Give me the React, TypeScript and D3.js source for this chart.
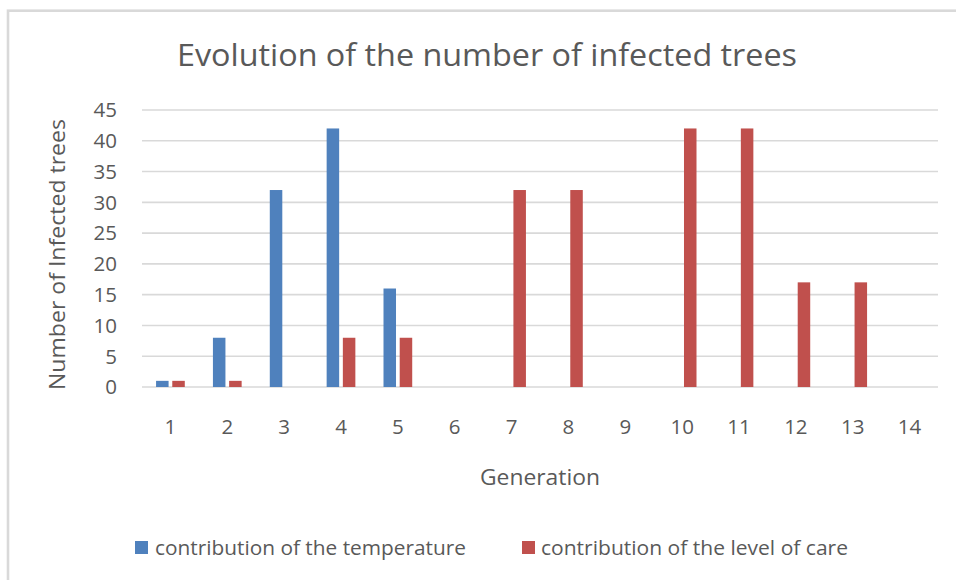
import React from "react";
import * as d3 from "d3";

const categories = ["1","2","3","4","5","6","7","8","9","10","11","12","13","14"];
const temperature = [1, 8, 32, 42, 16, 0, 0, 0, 0, 0, 0, 0, 0, 0];
const levelOfCare = [1, 1, 0, 8, 8, 0, 32, 32, 0, 42, 42, 17, 17, 0];
const yTicks = [0, 5, 10, 15, 20, 25, 30, 35, 40, 45];
const seriesNames = ["contribution of the temperature", "contribution of the level of care"];
const colors = ["#4f81bd", "#c0504d"];

const W = 956, H = 580;
const plot = { left: 142, right: 938, top: 110, bottom: 387 };
const FONT = "'Open Sans', sans-serif";
const TXT = "#595959";

export default function App() {
  const x = d3.scaleBand().domain(categories).range([plot.left, plot.right]).padding(0);
  const y = d3.scaleLinear().domain([0, 45]).range([plot.bottom, plot.top]);
  const bw = x.bandwidth() * 0.22;
  const gap = x.bandwidth() * 0.065;
  const series = [temperature, levelOfCare];

  return (
    <svg width={W} height={H} style={{ position: "absolute", left: 0, top: 0, background: "#fff" }}>
      <rect x={8} y={10.7} width={1200} height={1000} fill="#fff" stroke="#d9d9d9" strokeWidth={2.6} />
      <text x={487} y={66} textAnchor="middle" fontFamily={FONT} fontSize={31.5} fill={TXT}
        textLength={620} lengthAdjust="spacingAndGlyphs">Evolution of the number of infected trees</text>

      {yTicks.map((t) => (
        <g key={t}>
          <line x1={plot.left} x2={plot.right} y1={y(t)} y2={y(t)} stroke="#d9d9d9" strokeWidth={1.6} />
          <text x={117} y={y(t)} dy="0.36em" textAnchor="end" fontFamily={FONT} fontSize={20.5} fill={TXT}>{t}</text>
        </g>
      ))}

      {series.map((vals, si) =>
        vals.map((v, i) => {
          const cx = (x(categories[i]) as number) + x.bandwidth() / 2;
          const bx = si === 0 ? cx - gap / 2 - bw : cx + gap / 2;
          if (v <= 0) return null;
          return (
            <rect key={`${si}-${i}`} x={bx} y={y(v)} width={bw} height={y(0) - y(v)} fill={colors[si]} />
          );
        })
      )}

      {categories.map((c) => (
        <text key={c} x={(x(c) as number) + x.bandwidth() / 2} y={427} dy="0.36em" textAnchor="middle"
          fontFamily={FONT} fontSize={20.5} fill={TXT}>{c}</text>
      ))}

      <text x={540} y={485} textAnchor="middle" fontFamily={FONT} fontSize={22.5} fill={TXT}
        textLength={120} lengthAdjust="spacingAndGlyphs">Generation</text>

      <text transform="translate(65,254.5) rotate(-90)" textAnchor="middle" fontFamily={FONT} fontSize={22.5} fill={TXT}
        textLength={271} lengthAdjust="spacingAndGlyphs">Number of Infected trees</text>

      <rect x={135} y={541} width={13} height={13} fill={colors[0]} />
      <text x={155} y={548} dy="0.36em" fontFamily={FONT} fontSize={20.5} fill={TXT}
        textLength={311} lengthAdjust="spacingAndGlyphs">{seriesNames[0]}</text>
      <rect x={522} y={541} width={13} height={13} fill={colors[1]} />
      <text x={541} y={548} dy="0.36em" fontFamily={FONT} fontSize={20.5} fill={TXT}
        textLength={307} lengthAdjust="spacingAndGlyphs">{seriesNames[1]}</text>
    </svg>
  );
}
